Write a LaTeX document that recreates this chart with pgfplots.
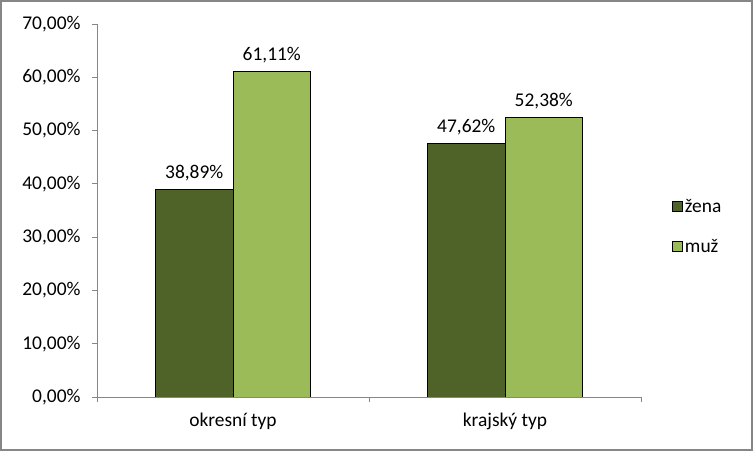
\documentclass[border=0pt]{standalone}
\usepackage{pgfplots}
\pgfplotsset{compat=1.18}
\usepackage{fontspec}
\setmainfont{Carlito}
\definecolor{zena}{HTML}{4F6228}
\definecolor{muz}{HTML}{9BBB59}
\definecolor{axgray}{HTML}{868686}
\newcommand\cf{\fontsize{19.5}{22}\selectfont}
\begin{document}
\begin{tikzpicture}[x=1bp,y=1bp]
\useasboundingbox (0,0) rectangle (753,451);
\draw[axgray, line width=2bp] (1,1) rectangle (752,450);
\begin{axis}[
  at={(97bp,54bp)}, anchor=south west,
  scale only axis, width=544bp, height=373bp,
  xmin=-0.5, xmax=1.5, ymin=0, ymax=70,
  ybar=0pt, bar width=77.5bp,
  axis x line*=bottom, axis y line*=left,
  axis line style={axgray, line width=0.8bp, -},
  tick style={axgray, line width=0.8bp},
  tick align=outside, major tick length=5bp,
  xtick={-0.5,0.5,1.5}, xticklabels={},
  extra x ticks={0,1}, extra x tick labels={okresní typ, krajský typ},
  extra x tick style={major tick length=0pt, tick label style={yshift=-12bp}},
  ytick={0,10,...,70},
  /pgf/number format/assume math mode=true,
  yticklabel={\pgfmathprintnumber[fixed,fixed zerofill,precision=2,use comma]{\tick}\%},
  tick label style={font=\cf, black},
  yticklabel style={xshift=-8bp},
  nodes near coords={\pgfmathprintnumber[fixed,fixed zerofill,precision=2,use comma,assume math mode=true]{\pgfplotspointmeta}\%},
  every node near coord/.append style={font=\cf, black, yshift=5bp},
  legend style={at={(1,0.5)}, anchor=west, xshift=28bp, yshift=-16bp, draw=none, fill=none, font=\cf, row sep=21bp},
  legend cell align=left,
  every axis plot post/.append style={legend image code/.code={\draw[#1,draw=black,line width=0.8bp] (0bp,-5bp) rectangle (10bp,5bp);}},
]
\addplot[fill=zena, draw=black, line width=0.8bp] coordinates {(0,38.89) (1,47.62)};
\addplot[fill=muz, draw=black, line width=0.8bp] coordinates {(0,61.11) (1,52.38)};
\legend{žena, muž}
\end{axis}
\end{tikzpicture}
\end{document}
